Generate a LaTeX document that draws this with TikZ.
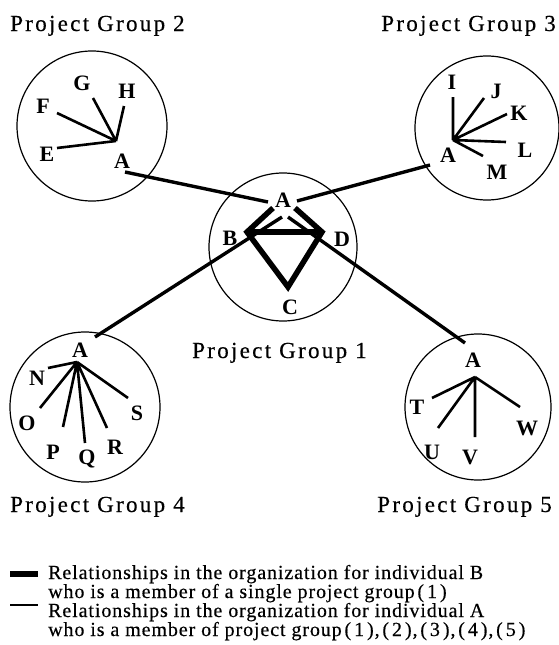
\documentclass[tikz,border=0pt]{standalone}
\usepackage{fontspec}
\setmainfont{Liberation Serif}
\newfontfamily\grpfont[LetterSpace=10,FakeBold=0.4]{Liberation Serif}
\newfontfamily\legfont[LetterSpace=4.5,FakeBold=0.4]{Liberation Serif}
\newcommand{\pn}[1]{\hspace{2.7pt}(\hspace{3pt}#1\hspace{3pt})}
\begin{document}
\begin{tikzpicture}[x=1pt,y=-1pt,
  grpcircle/.style={circle,draw,line width=1.2pt,inner sep=0pt,minimum size=#1},
  memline/.style={line width=2.6pt},
  linkline/.style={line width=3.4pt},
  bline/.style={line width=5.5pt},
  lbl/.style={inner sep=0pt,font=\fontsize{22}{22}\selectfont\bfseries},
  gtitle/.style={inner sep=0pt,font=\grpfont\fontsize{23}{23}\selectfont},
  legtext/.style={inner sep=0pt,anchor=base west,font=\legfont\fontsize{20}{20}\selectfont}]
\useasboundingbox (0,0) rectangle (558,645);

% circles
\node[grpcircle=150pt] (g2) at (92,126) {};
\node[grpcircle=144pt] (g3) at (487,128) {};
\node[grpcircle=148pt] (g1) at (283,247) {};
\node[grpcircle=150pt] (g4) at (85,407) {};
\node[grpcircle=146pt] (g5) at (478,407) {};

% titles
\node[gtitle,anchor=base west] (t2) at (10,31) {Project Group 2};
\node[gtitle,anchor=base east] (t3) at (556,31) {Project Group 3};
\node[gtitle,anchor=base west] (t1) at (192,358) {Project Group 1};
\node[gtitle,anchor=base west] (t4) at (10,512) {Project Group 4};
\node[gtitle,anchor=base east] (t5) at (552,512) {Project Group 5};

% ---- Group 2
\coordinate (h2) at (116,141);
\coordinate (e2) at (57,148);
\coordinate (f2) at (57,113);
\coordinate (gg2) at (93,98);
\coordinate (hh2) at (124,106);
\node[lbl] (lE) at (47,154) {E};
\node[lbl] (lF) at (43,106) {F};
\node[lbl] (lG) at (82,83) {G};
\node[lbl] (lH) at (127,91) {H};
\node[lbl] (lA2) at (122,161) {A};
\draw[memline] (e2) -- (h2) (f2) -- (h2) (gg2) -- (h2) (hh2) -- (h2);

% ---- Group 3
\coordinate (h3) at (453,140);
\coordinate (i3) at (453,97);
\coordinate (j3) at (484,98);
\coordinate (k3) at (507,114);
\coordinate (l3) at (506,142);
\coordinate (m3) at (483,156);
\node[lbl] (lI) at (452,82) {I};
\node[lbl] (lJ) at (496,91) {J};
\node[lbl] (lK) at (519,113) {K};
\node[lbl] (lL) at (525,150) {L};
\node[lbl] (lM) at (497,172) {M};
\node[lbl] (lA3) at (448,155) {A};
\draw[memline] (i3) -- (h3) (j3) -- (h3) (k3) -- (h3) (l3) -- (h3) (m3) -- (h3);

% ---- Group 4
\coordinate (h4) at (77,362);
\coordinate (n4) at (48,368);
\coordinate (o4) at (40,408);
\coordinate (p4) at (63,427);
\coordinate (q4) at (85,443);
\coordinate (r4) at (107,428);
\coordinate (s4) at (128,398);
\node[lbl] (lA4) at (80,350) {A};
\node[lbl] (lN) at (37,378) {N};
\node[lbl] (lO) at (27,423) {O};
\node[lbl] (lP) at (53,452) {P};
\node[lbl] (lQ) at (87,459) {Q};
\node[lbl] (lR) at (115,447) {R};
\node[lbl] (lS) at (137,413) {S};
\draw[memline] (n4) -- (h4) (o4) -- (h4) (p4) -- (h4) (q4) -- (h4) (r4) -- (h4) (s4) -- (h4);

% ---- Group 5
\coordinate (h5) at (475,377);
\coordinate (tt5) at (432,398);
\coordinate (u5) at (438,428);
\coordinate (v5) at (475,437);
\coordinate (w5) at (520,407);
\node[lbl] (lA5) at (473,360) {A};
\node[lbl] (lT) at (417,407) {T};
\node[lbl] (lU) at (432,452) {U};
\node[lbl] (lV) at (470,457) {V};
\node[lbl] (lW) at (527,428) {W};
\draw[memline] (tt5) -- (h5) (u5) -- (h5) (v5) -- (h5) (w5) -- (h5);

% ---- Group 1 (central)
\node[lbl] (lA1) at (283,200) {A};
\node[lbl] (lB) at (230,238) {B};
\node[lbl] (lD) at (342,239) {D};
\node[lbl] (lC) at (290,307) {C};
\coordinate (vB) at (247,232);
\coordinate (vD) at (322,232);
\coordinate (vC) at (288,287);
\coordinate (aB) at (273,208);
\coordinate (aD) at (295,208);
\draw[bline] (aB) -- (vB) -- (vC) -- (vD) -- (aD);
\draw[bline] (vB) -- (vD);

% ---- links of A
\coordinate (s2) at (125,172);
\coordinate (a12) at (268,202);
\coordinate (s3) at (430,165);
\coordinate (a13) at (297,201);
\coordinate (s4) at (95,337);
\coordinate (a14) at (282,217);
\coordinate (s5) at (465,343);
\coordinate (a15) at (288,217);
\draw[linkline] (s2) -- (a12);
\draw[linkline] (s3) -- (a13);
\draw[linkline] (s4) -- (a14);
\draw[linkline] (s5) -- (a15);

% ---- legend
\coordinate (k1a) at (10,573.5);
\coordinate (k1b) at (38,573.5);
\coordinate (k2a) at (10,605);
\coordinate (k2b) at (38,605);
\draw[line width=6pt] (k1a) -- (k1b);
\draw[line width=1.6pt] (k2a) -- (k2b);
\node[legtext] (L1) at (48,579) {Relationships in the organization for individual B};
\node[legtext] (L2) at (48,598) {who is a member of a single project group\pn{1}};
\node[legtext] (L3) at (48,617) {Relationships in the organization for individual A};
\node[legtext] (L4) at (48,636) {who is a member of project group\pn{1},\pn{2},\pn{3},\pn{4},\pn{5}};
\end{tikzpicture}
\end{document}
